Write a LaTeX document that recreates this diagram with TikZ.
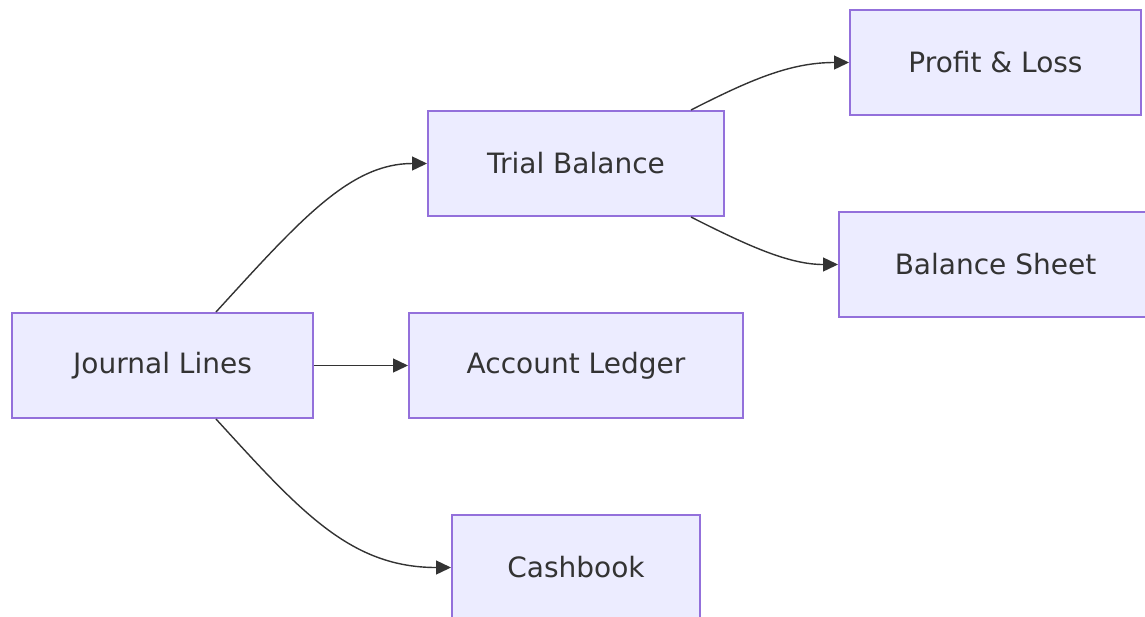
\documentclass[tikz,border=0pt]{standalone}
\usepackage{fontspec}
\setmainfont{DejaVu Sans}
\usepackage{tikz}
\usetikzlibrary{arrows.meta}
\definecolor{boxfill}{HTML}{ECECFF}
\definecolor{boxline}{HTML}{9370DB}
\definecolor{ink}{HTML}{333333}

\begin{document}
\begin{tikzpicture}[x=0.5pt, y=-0.5pt,
    box/.style={draw=boxline, fill=boxfill, line width=1pt, minimum height=52.5pt,
        inner sep=0pt, text=ink, font=\fontsize{14}{16}\selectfont},
    flow/.style={draw=ink, line width=0.7pt, -{Triangle[length=7.5pt, width=7pt]}}]
    \useasboundingbox (0,0) rectangle (1145,616);

    % Nodes
    \node[box, minimum width=150.5pt] (jl) at (162.5,365.5) {Journal Lines};
    \node[box, minimum width=148pt] (tb) at (576,163.5) {Trial Balance};
    \node[box, minimum width=167pt] (al) at (576,365.5) {Account Ledger};
    \node[box, minimum width=124pt] (cb) at (576,567.5) {Cashbook};
    \node[box, minimum width=145.5pt] (pl) at (995.5,62.5) {Profit \& Loss};
    \node[box, minimum width=156.5pt] (bs) at (995.5,264.5) {Balance Sheet};

    % Edges from the journal
    \draw[flow] ([xshift=-49pt]jl.north east) .. controls (300,220) and (350,163.5) .. (tb.west);
    \draw[flow] (jl.east) -- (al.west);
    \draw[flow] ([xshift=-49pt]jl.south east) .. controls (300,511) and (350,567.5) .. (cb.west);

    % Edges from the trial balance
    \draw[flow] ([xshift=-17pt]tb.north east) .. controls (750,80) and (790,62.5) .. (pl.west);
    \draw[flow] ([xshift=-17pt]tb.south east) .. controls (750,247) and (790,264.5) .. (bs.west);
\end{tikzpicture}
\end{document}
